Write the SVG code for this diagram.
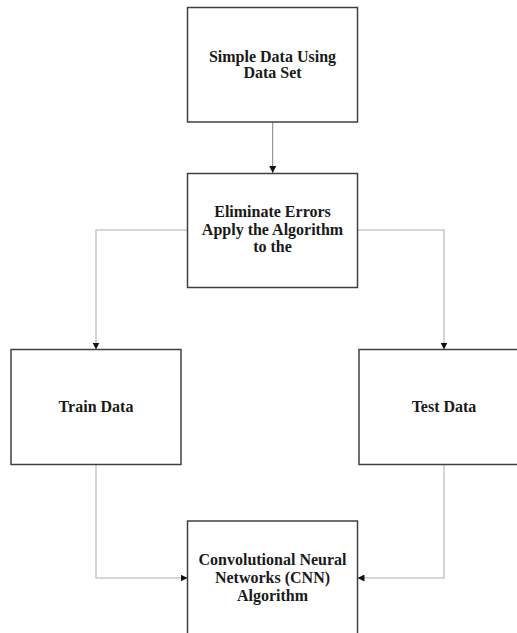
<svg xmlns="http://www.w3.org/2000/svg" width="517" height="633" viewBox="0 0 517 633">
<style>
.box{fill:#fff;stroke:#404040;stroke-width:1.5}
.t{font-family:"Liberation Serif","Times New Roman",serif;font-weight:bold;font-size:16px;fill:#1a1a1a;text-anchor:middle}
.c{fill:none;stroke:#c8c8c8;stroke-width:1.5}
.c1{fill:none;stroke:#808080;stroke-width:1}
</style>
<defs>
<marker id="ah" viewBox="0 0 10 10" refX="10" refY="5" markerWidth="7" markerHeight="7" markerUnits="userSpaceOnUse" orient="auto">
<path d="M0,0 L10,5 L0,10 Z" fill="#111"/>
</marker>
</defs>
<rect width="517" height="633" fill="#fff"/>
<g id="connectors">
<path class="c1" d="M272.7,122 V173" marker-end="url(#ah)"/>
<path class="c" d="M187.5,230 H96 V349.5" marker-end="url(#ah)"/>
<path class="c" d="M357.5,230 H444 V349.5" marker-end="url(#ah)"/>
<path class="c" d="M96,464.5 V578 H187.5" marker-end="url(#ah)"/>
<path class="c" d="M444,464.5 V578 H357.5" marker-end="url(#ah)"/>
</g>
<g id="n1">
<rect class="box" x="187.5" y="7.5" width="170" height="114.5"/>
<text class="t" x="272.5" y="62">Simple Data Using</text>
<text class="t" x="272.5" y="78">Data Set</text>
</g>
<g id="n2">
<rect class="box" x="187.5" y="173.5" width="170" height="114"/>
<text class="t" x="272.5" y="217">Eliminate Errors</text>
<text class="t" x="272.5" y="235">Apply the Algorithm</text>
<text class="t" x="272.5" y="252">to the</text>
</g>
<g id="n3">
<rect class="box" x="11" y="349.5" width="170" height="115"/>
<text class="t" x="96" y="412">Train Data</text>
</g>
<g id="n4">
<rect class="box" x="359" y="349.5" width="170" height="115"/>
<text class="t" x="444" y="412">Test Data</text>
</g>
<g id="n5">
<rect class="box" x="187.5" y="521" width="170" height="130"/>
<text class="t" x="272.5" y="564.5">Convolutional Neural</text>
<text class="t" x="272.5" y="582.5">Networks (CNN)</text>
<text class="t" x="272.5" y="600.5">Algorithm</text>
</g>
</svg>
